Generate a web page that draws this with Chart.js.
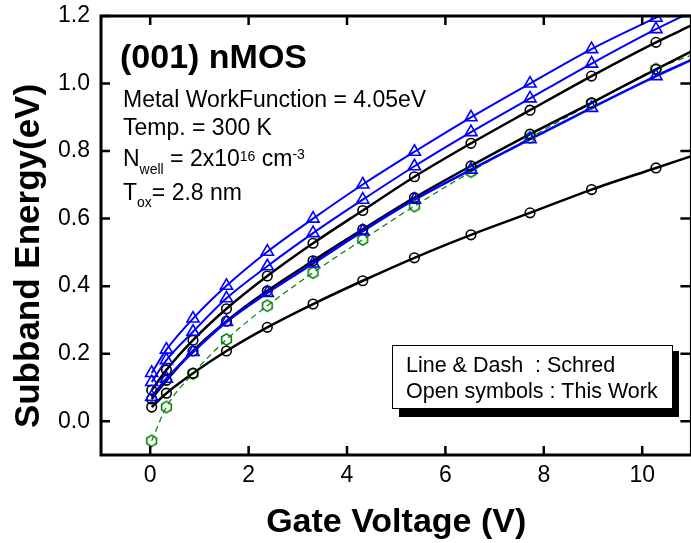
<!DOCTYPE html>
<html>
<head>
<meta charset="utf-8">
<script src="https://cdn.jsdelivr.net/npm/chart.js@4.4.0/dist/chart.umd.min.js"></script>
<style>
  body { margin: 0; background: #fff; overflow: hidden; }
  #wrap { width: 700px; height: 543px; }
</style>
</head>
<body>
<div id="wrap"><canvas id="subband-energy-chart"></canvas></div>
<script>
// gate voltages of the simulated points (V)
const gateVoltage = [0.03, 0.33, 0.87, 1.55, 2.38, 3.31, 4.32, 5.37, 6.52, 7.72, 8.97, 10.28];
const edgeVoltage = 11;

// open circles (black)
const circleLow = [0.042, 0.083, 0.142, 0.208, 0.278, 0.347, 0.416, 0.484, 0.552, 0.617, 0.686, 0.750];
const circleMid = [0.066, 0.121, 0.208, 0.296, 0.386, 0.475, 0.568, 0.662, 0.756, 0.850, 0.943, 1.042];
const circleHigh = [0.092, 0.152, 0.240, 0.333, 0.430, 0.527, 0.624, 0.724, 0.823, 0.921, 1.022, 1.122];
// open triangles (blue)
const triangleHigh = [0.143, 0.212, 0.304, 0.401, 0.502, 0.600, 0.701, 0.798, 0.900, 1.000, 1.102, 1.195];
const triangleMid = [0.116, 0.181, 0.265, 0.364, 0.459, 0.557, 0.656, 0.755, 0.856, 0.956, 1.059, 1.161];
const triangleLow = [0.072, 0.126, 0.205, 0.294, 0.380, 0.467, 0.563, 0.656, 0.745, 0.835, 0.928, 1.022];
// open hexagons (green)
const hexagon = [-0.058, 0.042, 0.141, 0.242, 0.342, 0.440, 0.538, 0.637, 0.739, 0.840, 0.941, 1.043];

// where the Schred curves leave the plot on the right
const schredEnd = { circleLow: 0.785, circleMid: 1.095, circleHigh: 1.172, triangleHigh: 1.245, triangleMid: 1.212, triangleLow: 1.070, hexagon: 1.084 };

const xTicks = [0, 2, 4, 6, 8, 10];
const yTicks = [0.0, 0.2, 0.4, 0.6, 0.8, 1.0, 1.2];

const FONT = '"Liberation Sans", Arial, Helvetica, sans-serif';
const BLACK = '#000000';
const BLUE = '#0000ff';
const GREEN = '#008000';

function points(values) {
    return gateVoltage.map((v, i) => ({ x: v, y: values[i] }));
}

function curve(values, end) {
    return points(values).concat([{ x: edgeVoltage, y: end }]);
}

function hexagonSymbol() {
    const c = document.createElement('canvas');
    c.width = 15; c.height = 15;
    const g = c.getContext('2d');
    g.strokeStyle = GREEN;
    g.lineWidth = 1.6;
    g.beginPath();
    for (let k = 0; k < 6; k++) {
        const a = Math.PI / 6 + k * Math.PI / 3;
        const px = 7.5 + 5.6 * Math.cos(a), py = 7.5 + 5.6 * Math.sin(a);
        k === 0 ? g.moveTo(px, py) : g.lineTo(px, py);
    }
    g.closePath();
    g.stroke();
    return c;
}

function schredLine(values, end, color, width, dash, order) {
    return {
        data: curve(values, end),
        borderColor: color,
        borderWidth: width,
        borderDash: dash,
        pointRadius: 0,
        fill: false,
        cubicInterpolationMode: 'monotone',
        order: order
    };
}

function symbols(values, style, color, radius, order) {
    return {
        data: points(values),
        showLine: false,
        pointStyle: style,
        pointRadius: radius,
        pointBorderColor: color,
        pointBackgroundColor: 'rgba(0,0,0,0)',
        pointBorderWidth: 1.6,
        order: order
    };
}

const frameAndNotes = {
    id: 'frameAndNotes',
    afterDatasetsDraw(chart) {
        const { ctx, chartArea: a, scales: { x, y } } = chart;
        ctx.save();
        ctx.strokeStyle = BLACK;
        ctx.lineWidth = 3;
        ctx.strokeRect(a.left, a.top, a.right - a.left, a.bottom - a.top);
        ctx.lineWidth = 2.5;
        ctx.beginPath();
        xTicks.forEach(v => {
            const px = x.getPixelForValue(v);
            ctx.moveTo(px, a.bottom); ctx.lineTo(px, a.bottom - 9);
            ctx.moveTo(px, a.top); ctx.lineTo(px, a.top + 9);
        });
        yTicks.forEach(v => {
            const py = y.getPixelForValue(v);
            ctx.moveTo(a.left, py); ctx.lineTo(a.left + 9, py);
            ctx.moveTo(a.right, py); ctx.lineTo(a.right - 11, py);
        });
        ctx.stroke();

        ctx.fillStyle = BLACK;
        ctx.textBaseline = 'alphabetic';

        // y axis title
        ctx.save();
        ctx.translate(39, 256);
        ctx.rotate(-Math.PI / 2);
        ctx.textAlign = 'center';
        ctx.font = 'bold 35px ' + FONT;
        ctx.fillText('Subband Energy(eV)', 0, 0);
        ctx.restore();

        // header and simulation conditions
        ctx.textAlign = 'left';
        ctx.font = 'bold 34px ' + FONT;
        ctx.fillText('(001) nMOS', 120, 68);

        const big = '23px ' + FONT, small = '14px ' + FONT;
        ctx.font = big;
        ctx.fillText('Metal WorkFunction = 4.05eV', 123, 107);
        ctx.fillText('Temp. = 300 K', 123, 135);

        let cx = 123;
        const run = (text, font, dy) => {
            ctx.font = font;
            ctx.fillText(text, cx, dy);
            cx += ctx.measureText(text).width;
        };
        run('N', big, 166);
        run('well', small, 174);
        run(' = 2x10', big, 166);
        run('16', small, 161);
        run(' cm', big, 166);
        run('-3', small, 159);

        cx = 123;
        run('T', big, 200);
        run('ox', small, 207);
        run('= 2.8 nm', big, 200);

        // note box with drop shadow
        ctx.fillStyle = BLACK;
        ctx.fillRect(399, 351, 280, 66);
        ctx.fillStyle = '#ffffff';
        ctx.fillRect(392.5, 345.5, 280, 63);
        ctx.lineWidth = 1;
        ctx.strokeStyle = BLACK;
        ctx.strokeRect(392.5, 345.5, 280, 63);
        ctx.fillStyle = BLACK;
        ctx.font = '21.5px ' + FONT;
        ctx.fillText('Line & Dash  : Schred', 406, 372);
        ctx.fillText('Open symbols : This Work', 406, 398);
        ctx.restore();
    }
};

const ctx = document.getElementById('subband-energy-chart');

const data = {
    datasets: [
        schredLine(circleLow, schredEnd.circleLow, BLACK, 2.5, [], 5),
        schredLine(circleMid, schredEnd.circleMid, BLACK, 2.5, [], 5),
        schredLine(circleHigh, schredEnd.circleHigh, BLACK, 2.5, [], 5),
        schredLine(hexagon, schredEnd.hexagon, GREEN, 1.2, [6, 4], 6),
        schredLine(triangleHigh, schredEnd.triangleHigh, BLUE, 2, [], 4),
        schredLine(triangleMid, schredEnd.triangleMid, BLUE, 2, [], 4),
        schredLine(triangleLow, schredEnd.triangleLow, BLUE, 2.5, [], 4),
        symbols(hexagon, hexagonSymbol(), GREEN, 5, 3),
        symbols(circleLow, 'circle', BLACK, 4.8, 2),
        symbols(circleMid, 'circle', BLACK, 4.8, 2),
        symbols(circleHigh, 'circle', BLACK, 4.8, 2),
        symbols(triangleHigh, 'triangle', BLUE, 7, 1),
        symbols(triangleMid, 'triangle', BLUE, 7, 1),
        symbols(triangleLow, 'triangle', BLUE, 7, 1)
    ]
};

const config = {
    type: 'line',
    data: data,
    options: {
        responsive: true,
        maintainAspectRatio: false,
        animation: false,
        layout: { padding: { top: 16, right: 5, left: 0, bottom: 0 } },
        plugins: {
            legend: { display: false },
            tooltip: { enabled: false }
        },
        scales: {
            x: {
                type: 'linear',
                min: -1,
                max: 11,
                afterFit: scale => { scale.height = 88; scale.paddingLeft = 0; scale.paddingRight = 0; },
                afterBuildTicks: scale => { scale.ticks = xTicks.map(v => ({ value: v })); },
                grid: { display: false, drawTicks: false },
                border: { display: false },
                ticks: { color: BLACK, padding: 7, font: { family: FONT, size: 23 } },
                title: {
                    display: true,
                    text: 'Gate Voltage (V)',
                    color: BLACK,
                    padding: { top: 0, bottom: 0 },
                    font: { family: FONT, size: 34, weight: 'bold' }
                }
            },
            y: {
                type: 'linear',
                min: -0.1,
                max: 1.2,
                afterFit: scale => { scale.width = 101; scale.paddingTop = 0; scale.paddingBottom = 0; },
                afterBuildTicks: scale => { scale.ticks = yTicks.map(v => ({ value: v })); },
                grid: { display: false, drawTicks: false },
                border: { display: false },
                ticks: {
                    color: BLACK,
                    padding: 11,
                    font: { family: FONT, size: 23 },
                    callback: value => Number(value).toFixed(1)
                },
                title: { display: false }
            }
        }
    },
    plugins: [frameAndNotes]
};

new Chart(ctx, config);
</script>
</body>
</html>
